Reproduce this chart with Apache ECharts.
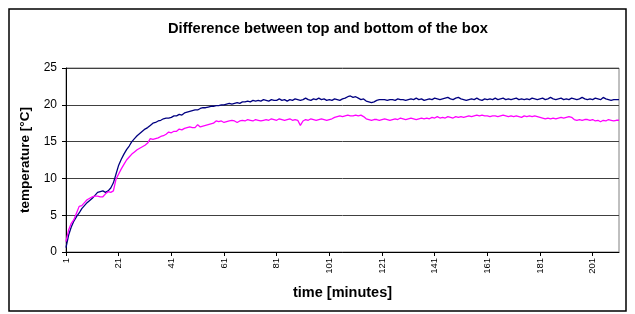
<!DOCTYPE html>
<html>
<head>
<meta charset="utf-8">
<script src="https://cdn.jsdelivr.net/npm/echarts@6/dist/echarts.min.js"></script>
<style>
html, body { margin: 0; padding: 0; background: #fff; }
#chart { width: 635px; height: 314px; }
</style>
</head>
<body>
<div id="chart"></div>
<script>
// top of the box (navy) and bottom of the box (magenta), one value per minute
var topTemp = [
    0.6, 2.3, 3.4, 4.2, 4.8, 5.3, 5.9, 6.3, 6.7, 7.0,
    7.3, 7.7, 8.1, 8.2, 8.3, 8.1, 8.3, 8.7, 9.4, 10.6,
    11.8, 12.6, 13.3, 13.9, 14.4, 15.0, 15.4, 15.8, 16.1, 16.4,
    16.7, 16.9, 17.2, 17.5, 17.6, 17.8, 17.9, 18.1, 18.2, 18.2,
    18.3, 18.5, 18.5, 18.7, 18.6, 18.9, 19.0, 19.1, 19.2, 19.3,
    19.3, 19.5, 19.6, 19.6, 19.7, 19.8, 19.8, 19.9, 19.9, 20.0,
    20.0, 20.1, 20.2, 20.1, 20.2, 20.3, 20.2, 20.4, 20.4, 20.5,
    20.4, 20.6, 20.5, 20.6, 20.5, 20.7, 20.6, 20.5, 20.7, 20.6,
    20.6, 20.8, 20.6, 20.7, 20.5, 20.7, 20.6, 20.8, 20.7, 20.6,
    20.7, 20.9, 20.7, 20.6, 20.8, 20.7, 20.9, 20.7, 20.8, 20.6,
    20.7, 20.6, 20.8, 20.7, 20.6, 20.8, 20.9, 21.1, 21.2, 21.0,
    21.1, 20.9, 20.7, 20.8, 20.5, 20.4, 20.3, 20.4, 20.6, 20.7,
    20.7, 20.7, 20.6, 20.7, 20.7, 20.6, 20.8, 20.7, 20.7, 20.6,
    20.7, 20.8, 20.7, 20.9, 20.7, 20.8, 20.6, 20.7, 20.8, 20.7,
    20.9, 20.8, 20.7, 20.8, 20.9, 21.0, 20.8, 20.7, 20.9, 21.0,
    20.8, 20.7, 20.6, 20.7, 20.8, 20.7, 20.9, 20.7, 20.6, 20.8,
    20.7, 20.8, 20.7, 20.9, 20.7, 20.8, 20.9, 20.7, 20.8, 20.7,
    20.8, 20.9, 20.7, 20.8, 20.7, 20.8, 20.7, 20.9, 20.8, 20.7,
    20.8, 20.9, 20.7, 20.8, 21.0, 20.8, 20.7, 20.8, 20.9, 20.7,
    20.8, 20.7, 20.9, 20.8, 20.7, 20.8, 21.0, 20.8, 20.7, 20.8,
    20.7, 20.9, 20.8, 20.7, 21.0, 20.8, 20.7, 20.6, 20.7, 20.7,
    20.7
];
var bottomTemp = [
    1.4, 3.0, 3.9, 4.4, 5.3, 6.2, 6.3, 6.7, 7.1, 7.3,
    7.5, 7.6, 7.6, 7.5, 7.5, 7.9, 8.2, 8.1, 8.3, 9.9,
    10.6, 11.3, 11.9, 12.5, 12.9, 13.3, 13.6, 13.9, 14.1, 14.3,
    14.5, 14.8, 15.4, 15.3, 15.4, 15.5, 15.7, 15.8, 16.0, 16.3,
    16.2, 16.4, 16.4, 16.7, 16.6, 16.8, 16.9, 17.0, 16.9, 16.9,
    17.3, 17.0, 17.1, 17.2, 17.3, 17.4, 17.5, 17.8, 17.7, 17.8,
    17.6, 17.7, 17.8, 17.9, 17.8, 17.6, 17.8, 17.9, 17.8, 18.0,
    17.9, 17.8, 18.0, 17.9, 17.8, 17.9, 18.0, 17.9, 18.1, 18.0,
    17.9, 18.1, 18.0, 17.9, 18.0, 18.1, 17.9, 18.0, 17.9, 17.2,
    17.8, 18.0, 17.9, 18.1, 18.0, 17.9, 18.0, 18.1, 18.0, 17.9,
    18.0, 18.1, 18.3, 18.4, 18.5, 18.4, 18.5, 18.6, 18.5, 18.5,
    18.6, 18.5, 18.6, 18.4, 18.1, 18.0, 17.9, 18.0, 18.0, 17.9,
    18.0, 18.1, 18.0, 17.9, 18.0, 18.1, 18.0, 18.2, 18.1, 18.0,
    18.1, 18.2, 18.1, 18.0, 18.1, 18.2, 18.1, 18.2, 18.1, 18.3,
    18.2, 18.4, 18.2, 18.3, 18.2, 18.4, 18.3, 18.2, 18.4, 18.3,
    18.4, 18.3, 18.4, 18.5, 18.4, 18.5, 18.6, 18.5, 18.6, 18.5,
    18.5, 18.4, 18.5, 18.5, 18.4, 18.5, 18.6, 18.5, 18.4, 18.5,
    18.4, 18.5, 18.4, 18.3, 18.5, 18.4, 18.5, 18.4, 18.5, 18.4,
    18.3, 18.2, 18.1, 18.2, 18.1, 18.2, 18.1, 18.2, 18.3, 18.2,
    18.3, 18.4, 18.3, 18.0, 17.9, 18.0, 17.9, 18.0, 18.0, 17.9,
    18.0, 17.8, 17.9, 17.7, 17.9, 17.8, 18.0, 17.9, 17.8, 17.9,
    17.9
];
var minutes = [];
for (var i = 1; i <= topTemp.length; i++) {
    minutes.push(String(i));
}
var yTicks = [0, 5, 10, 15, 20, 25];

var myChart = echarts.init(document.getElementById('chart'));
myChart.setOption({
    animation: false,
    textStyle: { fontFamily: 'Liberation Sans, Arial, sans-serif' },
    title: {
        text: 'Difference between top and bottom of the box',
        left: 163,
        top: 16,
        textStyle: { fontSize: 14.7, fontWeight: 'bold', color: '#000' }
    },
    graphic: [{
        type: 'rect',
        shape: { x: 9, y: 9, width: 617, height: 302 },
        style: { fill: 'none', stroke: '#000', lineWidth: 1.5 },
        silent: true
    }],
    grid: {
        left: 66,
        right: 16,
        top: 68,
        bottom: 62,
        show: true,
        borderColor: '#808080',
        borderWidth: 1
    },
    xAxis: {
        type: 'category',
        boundaryGap: false,
        data: minutes,
        name: 'time [minutes]',
        nameLocation: 'middle',
        nameGap: 33,
        nameTextStyle: { fontSize: 14.5, fontWeight: 'bold', color: '#000' },
        axisLine: { lineStyle: { color: '#000', width: 1 } },
        axisTick: { interval: 19, length: 4, lineStyle: { color: '#000' } },
        axisLabel: { interval: 19, rotate: 90, fontSize: 9.5, color: '#000', margin: 6 },
        splitLine: { show: false }
    },
    yAxis: {
        type: 'value',
        min: yTicks[0],
        max: yTicks[yTicks.length - 1],
        interval: 5,
        name: 'temperature [°C]',
        nameLocation: 'middle',
        nameGap: 28,
        nameTextStyle: { fontSize: 13.5, fontWeight: 'bold', color: '#000' },
        axisLine: { show: true, lineStyle: { color: '#000', width: 1 } },
        axisTick: { show: true, length: 4, lineStyle: { color: '#000' } },
        axisLabel: { fontSize: 12, color: '#000', margin: 9 },
        splitLine: { lineStyle: { color: '#404040', width: 1 } }
    },
    series: [{
        name: 'top',
        type: 'line',
        data: topTemp,
        showSymbol: false,
        lineStyle: { color: '#000080', width: 1.3 },
        itemStyle: { color: '#000080' }
    }, {
        name: 'bottom',
        type: 'line',
        data: bottomTemp,
        showSymbol: false,
        lineStyle: { color: '#FF00FF', width: 1.3 },
        itemStyle: { color: '#FF00FF' }
    }]
});
</script>
</body>
</html>
